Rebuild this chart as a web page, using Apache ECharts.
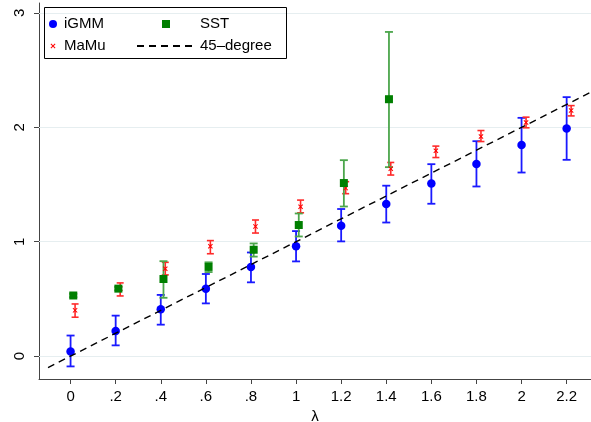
<!DOCTYPE html>
<html>
<head>
<meta charset="utf-8">
<script src="https://cdn.jsdelivr.net/npm/echarts@6/dist/echarts.min.js"></script>
<style>
  html, body { margin: 0; padding: 0; background: #fff; }
  #chart { width: 591px; height: 422px; }
</style>
</head>
<body>
<div id="chart"></div>
<script>
// lambda grid and estimates
var lambda = [0, 0.2, 0.4, 0.6, 0.8, 1.0, 1.2, 1.4, 1.6, 1.8, 2.0, 2.2];
var xTicks = [0, 0.2, 0.4, 0.6, 0.8, 1, 1.2, 1.4, 1.6, 1.8, 2, 2.2];
var yTicks = [0, 1, 2, 3];

var igmm    = [0.04, 0.22, 0.41, 0.59, 0.78, 0.96, 1.14, 1.33, 1.51, 1.68, 1.845, 1.99];
var igmmLo  = [-0.09, 0.094, 0.275, 0.461, 0.645, 0.828, 1.003, 1.168, 1.332, 1.483, 1.605, 1.716];
var igmmHi  = [0.18, 0.354, 0.535, 0.718, 0.906, 1.093, 1.286, 1.49, 1.678, 1.879, 2.083, 2.264];

var mamu    = [0.40, 0.59, 0.764, 0.96, 1.134, 1.306, 1.469, 1.638, 1.795, 1.92, 2.042, 2.147];
var mamuLo  = [0.34, 0.526, 0.71, 0.895, 1.076, 1.253, 1.42, 1.583, 1.736, 1.876, 1.996, 2.10];
var mamuHi  = [0.456, 0.64, 0.82, 1.01, 1.19, 1.364, 1.525, 1.693, 1.836, 1.972, 2.089, 2.19];

var sst     = [0.53, 0.59, 0.674, 0.78, 0.93, 1.146, 1.513, 2.246];
var sstLo   = [0.515, 0.575, 0.51, 0.735, 0.87, 1.046, 1.308, 1.652];
var sstHi   = [0.545, 0.605, 0.83, 0.82, 0.985, 1.247, 1.713, 2.834];

var lineX = [-0.1, 2.31];

var FONT = 'Liberation Sans';
var xPath = 'M0,1.4 L1.4,0 L5,3.6 L8.6,0 L10,1.4 L6.4,5 L10,8.6 L8.6,10 L5,6.4 L1.4,10 L0,8.6 L3.6,5 Z';
var sqPath = 'M0,0 L10,0 L10,10 L0,10 Z';

function pts(ys, dx) {
    return ys.map(function (v, i) { return [lambda[i] + dx, v]; });
}
function bars(lo, hi, dx) {
    return lo.map(function (v, i) { return [lambda[i] + dx, v, hi[i]]; });
}
function errRender(color, width, cap) {
    return function (params, api) {
        var x = api.value(0);
        var a = api.coord([x, api.value(1)]);
        var b = api.coord([x, api.value(2)]);
        var st = { stroke: color, lineWidth: width };
        return {
            type: 'group',
            children: [
                { type: 'line', shape: { x1: a[0], y1: a[1], x2: b[0], y2: b[1] }, style: st },
                { type: 'line', shape: { x1: a[0] - cap, y1: a[1], x2: a[0] + cap, y2: a[1] }, style: st },
                { type: 'line', shape: { x1: b[0] - cap, y1: b[1], x2: b[0] + cap, y2: b[1] }, style: st }
            ]
        };
    };
}

var myChart = echarts.init(document.getElementById('chart'));
var option = {
    animation: false,
    textStyle: { fontFamily: FONT },
    grid: { left: 39, right: 0, top: 3, bottom: 43, outerBoundsMode: 'none', containLabel: false },
    xAxis: {
        type: 'value',
        min: -0.14,
        max: 2.308,
        name: 'λ',
        nameLocation: 'middle',
        nameGap: 29,
        nameTextStyle: { color: '#000', fontSize: 15, fontFamily: FONT },
        axisLine: { show: true, onZero: false, lineStyle: { color: '#444', width: 1 } },
        axisTick: { show: true, length: 5, customValues: xTicks, lineStyle: { color: '#444' } },
        axisLabel: {
            customValues: xTicks,
            margin: 10,
            color: '#000',
            fontSize: 15,
            fontFamily: FONT,
            formatter: function (v) { return String(v).replace(/^0\./, '.'); }
        },
        splitLine: { show: false }
    },
    yAxis: {
        type: 'value',
        min: -0.2,
        max: 3.087,
        axisLine: { show: true, onZero: false, lineStyle: { color: '#444', width: 1 } },
        axisTick: { show: true, length: 5, customValues: yTicks, lineStyle: { color: '#444' } },
        axisLabel: {
            customValues: yTicks,
            rotate: 90,
            margin: 12,
            color: '#000',
            fontSize: 15,
            fontFamily: FONT
        },
        splitLine: { show: false }
    },
    legend: [
        {
            left: 49, top: 16, orient: 'vertical', padding: 0,
            itemWidth: 12, itemHeight: 8, itemGap: 6, itemTextGap: 6,
            textStyle: { color: '#000', fontSize: 15, lineHeight: 16, fontFamily: FONT },
            selectedMode: false,
            data: [
                { name: 'iGMM' },
                { name: 'MaMu', icon: 'path://M-3,-3 M13,13 ' + xPath }
            ]
        },
        {
            left: 136, top: 16, orient: 'vertical', padding: 0,
            itemWidth: 58, itemHeight: 8, itemGap: 6, itemTextGap: 9,
            textStyle: { color: '#000', fontSize: 15, lineHeight: 16, fontFamily: FONT },
            selectedMode: false,
            data: [
                { name: 'SST', icon: 'path://' + sqPath },
                { name: '45–degree', itemStyle: { color: 'rgba(0,0,0,0)', borderWidth: 0 } }
            ]
        }
    ],
    graphic: [
        {
            type: 'rect',
            shape: { x: 44.5, y: 7.5, width: 242, height: 51 },
            style: { fill: 'none', stroke: '#000', lineWidth: 1 },
            z: 100
        }
    ],
    series: [
        {
            type: 'custom', name: 'iGMM CI', z: 2,
            renderItem: errRender('#1a1aff', 1.8, 4),
            encode: { x: 0, y: [1, 2] },
            data: bars(igmmLo, igmmHi, 0)
        },
        {
            type: 'custom', name: 'MaMu CI', z: 2,
            renderItem: errRender('#ff2a2a', 1.6, 3.5),
            encode: { x: 0, y: [1, 2] },
            data: bars(mamuLo, mamuHi, 0.02)
        },
        {
            type: 'custom', name: 'SST CI', z: 2,
            renderItem: errRender('#4ca64c', 1.8, 4),
            encode: { x: 0, y: [1, 2] },
            data: bars(sstLo, sstHi, 0.012)
        },
        {
            type: 'scatter', name: 'iGMM', z: 3,
            symbol: 'circle', symbolSize: 8.5,
            itemStyle: { color: '#0000ff', opacity: 1 },
            data: pts(igmm, 0)
        },
        {
            type: 'scatter', name: 'MaMu', z: 3,
            symbol: 'path://' + xPath, symbolSize: 5,
            itemStyle: { color: '#ff0000', opacity: 1 },
            data: pts(mamu, 0.02)
        },
        {
            type: 'scatter', name: 'SST', z: 3,
            symbol: 'path://' + sqPath, symbolSize: 8,
            itemStyle: { color: '#007f00', opacity: 1 },
            data: pts(sst, 0.012)
        },
        {
            type: 'line', name: '45–degree', z: 4,
            symbol: 'none',
            lineStyle: { color: '#000', width: 1.4, type: [7, 5] },
            itemStyle: { color: '#000' },
            data: lineX.map(function (v) { return [v, v]; }),
            markLine: {
                silent: true,
                symbol: 'none',
                label: { show: false },
                lineStyle: { color: '#e6eef0', type: 'solid', width: 1 },
                z: 1,
                data: yTicks.map(function (v) { return { yAxis: v }; })
            }
        }
    ]
};
myChart.setOption(option);
</script>
</body>
</html>
